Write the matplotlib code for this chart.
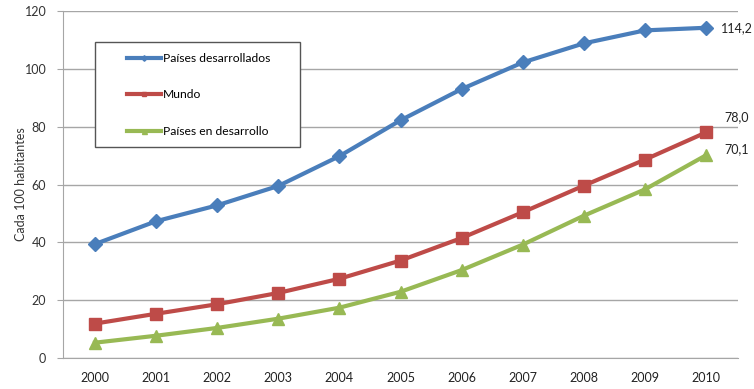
import matplotlib.pyplot as plt
from matplotlib.patches import Rectangle

# Data
years = list(range(2000, 2011))
desarrollados = [39.4, 47.3, 52.8, 59.5, 69.8, 82.2, 93.0, 102.2, 108.8, 113.3, 114.2]
mundo = [11.9, 15.3, 18.6, 22.5, 27.4, 33.7, 41.5, 50.4, 59.6, 68.6, 78.0]
en_desarrollo = [5.3, 7.7, 10.4, 13.6, 17.4, 22.9, 30.4, 39.2, 49.2, 58.3, 70.1]
labels = ['Países desarrollados', 'Mundo', 'Países en desarrollo']
end_labels = ['114,2', '78,0', '70,1']

plt.rcParams['font.family'] = ['Lato', 'DejaVu Sans']

W, H = 754, 389
fig = plt.figure(figsize=(W / 100, H / 100), dpi=100)
ax = fig.add_axes([63 / W, 1 - 358 / H, 675 / W, 347 / H])

blue = '#4A7EBB'
red = '#BE4B48'
green = '#98B954'

ax.plot(years, desarrollados, color=blue, lw=3, marker='D', ms=7, label=labels[0], zorder=3)
ax.plot(years, mundo, color=red, lw=3, marker='s', ms=8, label=labels[1], zorder=3)
ax.plot(years, en_desarrollo, color=green, lw=3, marker='^', ms=9, label=labels[2], zorder=3)

ax.set_xlim(1999.476, 2010.524)
ax.set_ylim(0, 120)
ax.set_yticks(range(0, 121, 20))
ax.set_xticks(years)
ax.grid(axis='y', color='#A6A6A6', lw=1)
ax.set_axisbelow(True)
for s in ['top', 'right']:
    ax.spines[s].set_visible(False)
for s in ['left', 'bottom']:
    ax.spines[s].set_color('#A6A6A6')
ax.tick_params(axis='y', length=4, color='#A6A6A6', labelsize=9, labelcolor='#333333', pad=8)
ax.tick_params(axis='x', length=0, labelsize=9, labelcolor='#222222', pad=10)
ax.set_ylabel('Cada 100 habitantes', fontsize=9, color='#333333', labelpad=-2)

ax.annotate(end_labels[0], (years[-1], desarrollados[-1]), xytext=(11, 0),
            textcoords='offset points', va='center', fontsize=9, color='#222222')
ax.annotate(end_labels[1], (years[-1], mundo[-1]), xytext=(13, 11),
            textcoords='offset points', va='center', fontsize=9, color='#222222')
ax.annotate(end_labels[2], (years[-1], en_desarrollo[-1]), xytext=(13, 4.5),
            textcoords='offset points', va='center', fontsize=9, color='#222222')

# legend frame drawn separately (wide horizontal padding)
frame = Rectangle((95 / W, 1 - 147 / H), 205 / W, 105 / H, transform=fig.transFigure,
                  facecolor='white', edgecolor='#555555', lw=1, zorder=4, clip_on=False)
ax.add_patch(frame)
leg = ax.legend(loc='upper left', bbox_to_anchor=((127 - 63) / 675, 1 - (53 - 11) / 347),
                fontsize=8.7, frameon=False, labelspacing=2.1,
                handlelength=2.8, handletextpad=0.15, borderpad=0, markerscale=0.4,
                borderaxespad=0)
leg.set_zorder(5)

fig.savefig('out.png', dpi=100)
